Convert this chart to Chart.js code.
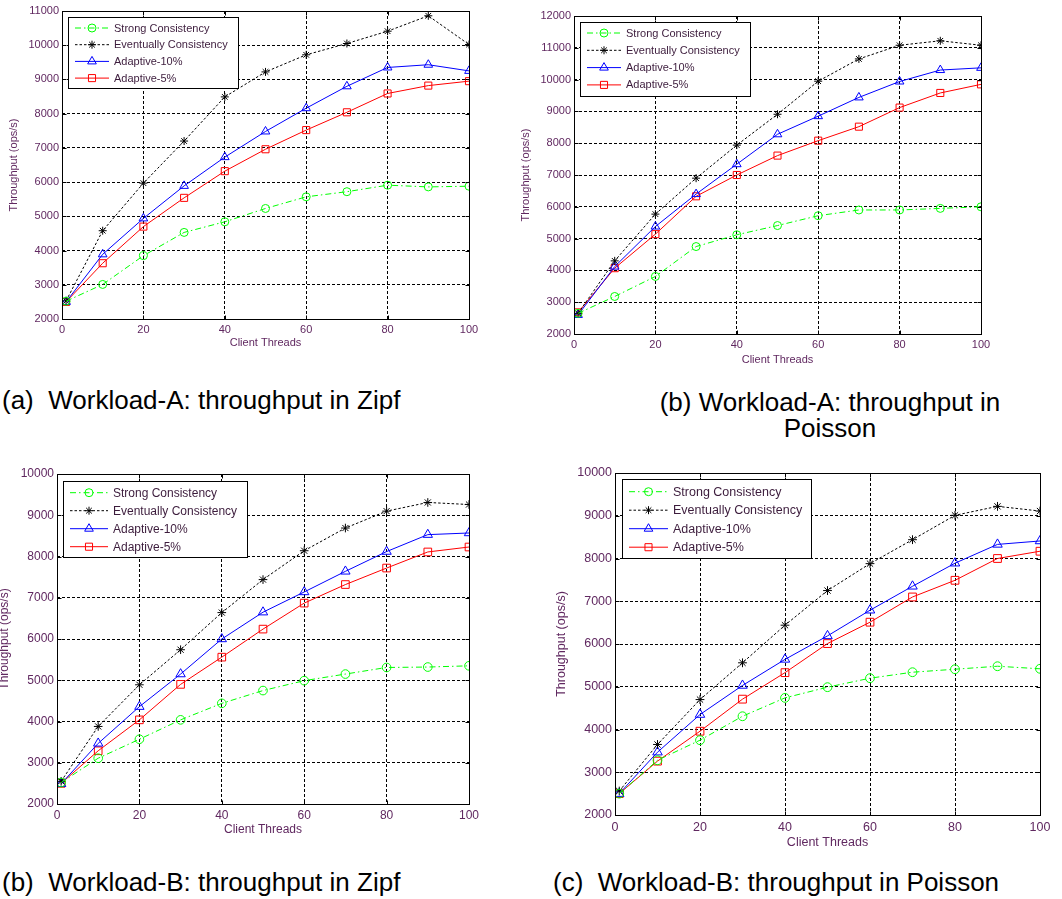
<!DOCTYPE html>
<html>
<head>
<meta charset="utf-8">
<script src="https://cdn.jsdelivr.net/npm/chart.js@4.4.1/dist/chart.umd.min.js"></script>
<style>
  html, body { margin: 0; padding: 0; background: #fff; width: 1062px; height: 899px; overflow: hidden; position: relative; font-family: "Liberation Sans", Arial, sans-serif; }
  canvas { position: absolute; }
  .cap { position: absolute; font-size: 26px; line-height: 26px; color: #000; white-space: nowrap; }
</style>
</head>
<body>
<canvas id="zipfA"></canvas>
<canvas id="poissonA"></canvas>
<canvas id="zipfB"></canvas>
<canvas id="poissonB"></canvas>

<div class="cap" style="left:2px; top:387px;">(a)&nbsp; Workload-A: throughput in Zipf</div>
<div class="cap" style="left:630px; top:389px; width:400px; text-align:center;">(b) Workload-A: throughput in<br>Poisson</div>
<div class="cap" style="left:2px; top:869px;">(b)&nbsp; Workload-B: throughput in Zipf</div>
<div class="cap" style="left:553px; top:869px;">(c)&nbsp; Workload-B: throughput in Poisson</div>

<script>
// x values (client threads) and tick labels
const threads = [1, 10, 20, 30, 40, 50, 60, 70, 80, 90, 100];
const xTicks = [0, 20, 40, 60, 80, 100];
const seriesNames = ['Strong Consistency', 'Eventually Consistency', 'Adaptive-10%', 'Adaptive-5%'];

// (a) Workload-A, Zipf
const zipfA_strong   = [2520, 3010, 3850, 4530, 4840, 5230, 5570, 5720, 5910, 5860, 5880];
const zipfA_eventual = [2530, 4580, 5970, 7200, 8490, 9220, 9720, 10050, 10410, 10860, 10020];
const zipfA_ad10     = [2500, 3890, 4940, 5890, 6730, 7480, 8160, 8800, 9350, 9430, 9250];
const zipfA_ad5      = [2500, 3630, 4700, 5540, 6320, 6960, 7520, 8040, 8590, 8820, 8950];
const zipfA_yTicks   = [2000, 3000, 4000, 5000, 6000, 7000, 8000, 9000, 10000, 11000];

// (b) Workload-A, Poisson
const poissonA_strong   = [2650, 3180, 3810, 4750, 5120, 5410, 5720, 5900, 5900, 5950, 6000];
const poissonA_eventual = [2650, 4300, 5770, 6900, 7940, 8910, 9950, 10650, 11080, 11220, 11080];
const poissonA_ad10     = [2600, 4120, 5380, 6400, 7340, 8280, 8850, 9440, 9940, 10300, 10370];
const poissonA_ad5      = [2680, 4070, 5140, 6330, 7000, 7610, 8080, 8520, 9120, 9580, 9850];
const poissonA_yTicks   = [2000, 3000, 4000, 5000, 6000, 7000, 8000, 9000, 10000, 11000, 12000];

// (b) Workload-B, Zipf
const zipfB_strong   = [2520, 3110, 3570, 4040, 4440, 4750, 4990, 5150, 5310, 5320, 5350];
const zipfB_eventual = [2550, 3880, 4890, 5740, 6640, 7440, 8140, 8690, 9100, 9310, 9260];
const zipfB_ad10     = [2490, 3470, 4360, 5150, 6000, 6650, 7140, 7640, 8120, 8530, 8570];
const zipfB_ad5      = [2500, 3290, 4040, 4900, 5560, 6240, 6870, 7320, 7720, 8110, 8230];
const zipfB_yTicks   = [2000, 3000, 4000, 5000, 6000, 7000, 8000, 9000, 10000];

// (c) Workload-B, Poisson
const poissonB_strong   = [2500, 3280, 3750, 4310, 4740, 4990, 5200, 5340, 5410, 5480, 5420];
const poissonB_eventual = [2560, 3650, 4700, 5560, 6440, 7250, 7880, 8440, 9010, 9220, 9110];
const poissonB_ad10     = [2500, 3470, 4350, 5030, 5640, 6190, 6790, 7350, 7890, 8330, 8410];
const poissonB_ad5      = [2500, 3260, 3960, 4710, 5330, 6010, 6510, 7100, 7490, 8000, 8170];
const poissonB_yTicks   = [2000, 3000, 4000, 5000, 6000, 7000, 8000, 9000, 10000];

const tickColor = '#602860';
const legendText = '#3c1c3c';
const FONT = '"Liberation Sans", Arial, sans-serif';

const styles = [
  { color: '#00ff00', dash: [6, 3, 1.5, 3], point: 'circle', r: 4 },
  { color: '#000000', dash: [2.5, 2], point: 'star', r: 4 },
  { color: '#0000ff', dash: [], point: 'triangle', r: 5 },
  { color: '#ff0000', dash: [], point: 'rect', r: 5 }
];

function drawMarker(ctx, type, x, y, r) {
  ctx.beginPath();
  if (type === 'circle') {
    ctx.arc(x, y, r, 0, Math.PI * 2);
  } else if (type === 'rect') {
    const s = Math.SQRT1_2 * r;
    ctx.rect(x - s, y - s, 2 * s, 2 * s);
  } else if (type === 'triangle') {
    for (let i = 0; i < 3; i++) {
      const a = i * 2 * Math.PI / 3;
      const px = x + Math.sin(a) * r, py = y - Math.cos(a) * r;
      if (i === 0) ctx.moveTo(px, py); else ctx.lineTo(px, py);
    }
    ctx.closePath();
  } else if (type === 'star') {
    for (let i = 0; i < 4; i++) {
      const a = i * Math.PI / 4;
      ctx.moveTo(x - Math.cos(a) * r, y - Math.sin(a) * r);
      ctx.lineTo(x + Math.cos(a) * r, y + Math.sin(a) * r);
    }
  }
  ctx.stroke();
}

// box around plot, inward ticks and legend
const matlabFrame = {
  id: 'matlabFrame',
  afterDraw(chart, args, opts) {
    const { ctx, chartArea: a, scales } = chart;
    ctx.save();
    ctx.strokeStyle = '#000';
    ctx.lineWidth = 1;
    ctx.setLineDash([]);
    const L = Math.round(a.left) + 0.5, R = Math.round(a.right) + 0.5;
    const T = Math.round(a.top) + 0.5, B = Math.round(a.bottom) + 0.5;
    ctx.strokeRect(L, T, R - L, B - T);
    ctx.beginPath();
    scales.x.ticks.forEach(t => {
      const px = Math.round(scales.x.getPixelForValue(t.value)) + 0.5;
      ctx.moveTo(px, B); ctx.lineTo(px, B - 4);
      ctx.moveTo(px, T); ctx.lineTo(px, T + 4);
    });
    scales.y.ticks.forEach(t => {
      const py = Math.round(scales.y.getPixelForValue(t.value)) + 0.5;
      ctx.moveTo(L, py); ctx.lineTo(L + 4, py);
      ctx.moveTo(R, py); ctx.lineTo(R - 4, py);
    });
    ctx.stroke();

    // legend box
    const lg = opts.box;
    const bx = Math.round(lg.x) + 0.5, by = Math.round(lg.y) + 0.5;
    ctx.fillStyle = '#fff';
    ctx.fillRect(bx, by, lg.w, lg.h);
    ctx.strokeStyle = '#000';
    ctx.strokeRect(bx, by, lg.w, lg.h);
    ctx.font = opts.font + 'px ' + FONT;
    ctx.textBaseline = 'middle';
    chart.data.datasets.forEach((ds, i) => {
      const st = styles[i];
      const y = lg.y + lg.row0 + i * lg.gap;
      const x0 = lg.x + 7, x1 = lg.x + lg.textX - 5;
      ctx.strokeStyle = st.color;
      ctx.lineWidth = 1;
      ctx.setLineDash(st.dash);
      ctx.beginPath(); ctx.moveTo(x0, y); ctx.lineTo(x1, y); ctx.stroke();
      ctx.setLineDash([]);
      drawMarker(ctx, st.point, (x0 + x1) / 2, y, st.r);
      ctx.fillStyle = legendText;
      ctx.fillText(ds.label, lg.x + lg.textX, y + 0.5);
    });
    ctx.restore();
  }
};

function buildChart(id, f, yTicks, series) {
  const canvas = document.getElementById(id);
  canvas.style.left = f.cl + 'px';
  canvas.style.top = f.ct + 'px';
  canvas.width = f.cw;
  canvas.height = f.ch;
  const lh = f.font * 1.2;

  const datasets = series.map((vals, i) => ({
    label: seriesNames[i],
    data: threads.map((x, j) => ({ x, y: vals[j] })),
    borderColor: styles[i].color,
    borderWidth: 1,
    borderDash: styles[i].dash,
    pointStyle: styles[i].point,
    pointRadius: styles[i].r * f.scale,
    pointBorderColor: styles[i].color,
    pointBackgroundColor: 'rgba(0,0,0,0)',
    pointBorderWidth: 1,
    tension: 0,
    fill: false
  }));

  return new Chart(canvas, {
    type: 'line',
    data: { datasets },
    plugins: [matlabFrame],
    options: {
      responsive: false,
      animation: false,
      devicePixelRatio: 1,
      layout: { padding: { left: 0, bottom: 0, top: f.top - f.ct, right: f.cl + f.cw - f.right } },
      plugins: {
        legend: { display: false },
        tooltip: { enabled: false },
        matlabFrame: {
          font: f.font,
          box: { x: f.lg.x - f.cl, y: f.lg.y - f.ct, w: f.lg.w, h: f.lg.h, row0: f.lg.row0, gap: f.lg.gap, textX: f.lg.textX }
        }
      },
      scales: {
        x: {
          type: 'linear',
          min: xTicks[0],
          max: xTicks[xTicks.length - 1],
          afterBuildTicks: s => { s.ticks = xTicks.map(v => ({ value: v })); },
          afterFit: s => { s.height = f.ct + f.ch - f.bottom; },
          grid: { color: '#000', lineWidth: 1, drawTicks: false },
          border: { display: false, dash: [3, 2] },
          ticks: {
            color: tickColor,
            padding: f.xPad,
            maxRotation: 0,
            font: { family: FONT, size: f.font },
            callback: v => String(v)
          },
          title: {
            display: true,
            text: 'Client Threads',
            color: tickColor,
            font: { family: FONT, size: f.font },
            padding: { top: 0, bottom: (f.ct + f.ch) - lh / 2 - f.xTitleY }
          }
        },
        y: {
          min: yTicks[0],
          max: yTicks[yTicks.length - 1],
          afterBuildTicks: s => { s.ticks = yTicks.map(v => ({ value: v })); },
          afterFit: s => { s.width = f.left - f.cl; },
          grid: { color: '#000', lineWidth: 1, drawTicks: false },
          border: { display: false, dash: [3, 2] },
          ticks: {
            color: tickColor,
            padding: 3,
            font: { family: FONT, size: f.font },
            callback: v => String(v)
          },
          title: {
            display: true,
            text: 'Throughput (ops/s)',
            color: tickColor,
            font: { family: FONT, size: f.font },
            padding: { top: f.yTitleX - f.cl - lh / 2, bottom: 0 }
          }
        }
      }
    }
  });
}

buildChart('zipfA', {
  cl: 0, ct: 0, cw: 490, ch: 360,
  left: 62, top: 11, right: 469, bottom: 319,
  font: 11, scale: 1, xPad: 4.5, yTitleX: 14, xTitleY: 343,
  lg: { x: 68, y: 17, w: 170, h: 71, row0: 11, gap: 16.7, textX: 46 }
}, zipfA_yTicks, [zipfA_strong, zipfA_eventual, zipfA_ad10, zipfA_ad5]);

buildChart('poissonA', {
  cl: 505, ct: 0, cw: 500, ch: 372,
  left: 574, top: 16, right: 981, bottom: 334,
  font: 11, scale: 1, xPad: 4.5, yTitleX: 526, xTitleY: 360,
  lg: { x: 580, y: 22, w: 170, h: 74, row0: 11, gap: 17.3, textX: 46 }
}, poissonA_yTicks, [poissonA_strong, poissonA_eventual, poissonA_ad10, poissonA_ad5]);

buildChart('zipfB', {
  cl: -3, ct: 455, cw: 495, ch: 385,
  left: 57, top: 474, right: 469, bottom: 804,
  font: 12, scale: 1.08, xPad: 4, yTitleX: 5, xTitleY: 830,
  lg: { x: 63, y: 481, w: 184, h: 76, row0: 11.7, gap: 18, textX: 50 }
}, zipfB_yTicks, [zipfB_strong, zipfB_eventual, zipfB_ad10, zipfB_ad5]);

buildChart('poissonB', {
  cl: 545, ct: 455, cw: 517, ch: 400,
  left: 615, top: 473, right: 1040, bottom: 815,
  font: 12.5, scale: 1.1, xPad: 5, yTitleX: 562, xTitleY: 843,
  lg: { x: 622, y: 479, w: 189, h: 79, row0: 12.7, gap: 18.5, textX: 51 }
}, poissonB_yTicks, [poissonB_strong, poissonB_eventual, poissonB_ad10, poissonB_ad5]);
</script>
</body>
</html>
